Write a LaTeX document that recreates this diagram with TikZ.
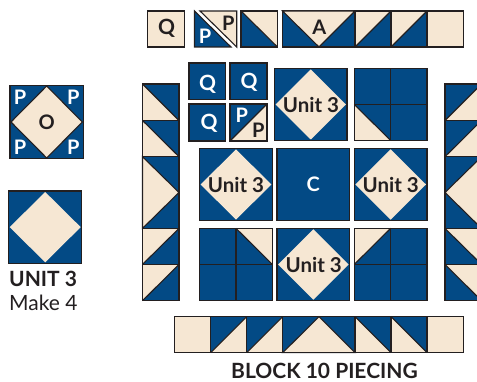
\documentclass[tikz,border=0pt]{standalone}
\usepackage{fontspec}
\setmainfont{Lato}
\definecolor{qblue}{HTML}{034A85}
\definecolor{qcream}{HTML}{F6E7D3}
\definecolor{qline}{HTML}{231F20}
\tikzset{
  ol/.style={draw=qline,line width=1.1pt,line join=miter},
  lblW/.style={text=white,anchor=base,font=\bfseries\fontsize{#1}{#1}\selectfont,inner sep=0pt},
  lblK/.style={text=qline,anchor=base,font=\bfseries\fontsize{#1}{#1}\selectfont,inner sep=0pt},
  unitlbl/.style={text=qline,anchor=base,font=\bfseries\fontsize{20.5}{20.5}\selectfont,inner sep=0pt},
  captxt/.style={text=qline,anchor=base west,inner sep=0pt}
}
% square: x0 y0 x1 y1 fill
\newcommand{\qsq}[5]{\fill[#5] (#1,#2) rectangle (#3,#4); \draw[ol] (#1,#2) rectangle (#3,#4);}
% HST with diagonal TL-BR: lower-left colour, upper-right colour
\newcommand{\qtlbr}[6]{%
 \fill[#5] (#1,#2) -- (#1,#4) -- (#3,#4) -- cycle;
 \fill[#6] (#1,#2) -- (#3,#2) -- (#3,#4) -- cycle;
 \draw[ol] (#1,#2) rectangle (#3,#4); \draw[ol] (#1,#2) -- (#3,#4);}
% HST with diagonal BL-TR: upper-left colour, lower-right colour
\newcommand{\qbltr}[6]{%
 \fill[#5] (#1,#2) -- (#3,#2) -- (#1,#4) -- cycle;
 \fill[#6] (#3,#2) -- (#3,#4) -- (#1,#4) -- cycle;
 \draw[ol] (#1,#2) rectangle (#3,#4); \draw[ol] (#1,#4) -- (#3,#2);}
% unit 3 block
\newcommand{\qunit}[4]{%
 \fill[qblue] (#1,#2) rectangle (#3,#4);
 \fill[qcream] ({#1+1},{(#2+#4)/2}) -- ({(#1+#3)/2},{#2+1}) -- ({#3-1},{(#2+#4)/2}) -- ({(#1+#3)/2},{#4-1}) -- cycle;
 \draw[ol] (#1,#2) rectangle (#3,#4);}
\begin{document}
\begin{tikzpicture}[x=1pt,y=-1pt]
\useasboundingbox (0,0) rectangle (477,382);
\begin{scope}
\clip (0,0) rectangle (477,382);
% top row
\qsq{147.7}{11}{184.3}{47}{qcream}
\fill[qblue] (194.5,11) -- (194.5,47) -- (231,47) -- cycle;
\draw[ol] (194.5,11) -- (194.5,47) -- (231,47) -- cycle;
\fill[qcream] (200,11) -- (236.7,11) -- (236.7,47) -- cycle;
\draw[ol] (200,11) -- (236.7,11) -- (236.7,47) -- cycle;
\qtlbr{241}{11}{277.5}{47}{qblue}{qcream}
\qsq{282.5}{11}{355}{47}{qblue}
\fill[qcream] (282.5,11) -- (319,47) -- (355,11) -- cycle;
\draw[ol] (282.5,11) -- (319,47) -- (355,11) -- cycle;
\qbltr{355}{11}{391}{47}{qcream}{qblue}
\qbltr{391}{11}{427}{47}{qcream}{qblue}
\qsq{427}{11}{463.3}{47}{qcream}
% left column
\qtlbr{142.5}{84}{179}{120.5}{qcream}{qblue}
\qtlbr{142.5}{120.5}{179}{156.7}{qcream}{qblue}
\qsq{142.5}{156.7}{179}{228.4}{qblue}
\fill[qcream] (142.5,156.7) -- (179,192.5) -- (142.5,228.4) -- cycle;
\draw[ol] (142.5,156.7) -- (179,192.5) -- (142.5,228.4) -- cycle;
\qbltr{142.5}{228.4}{179}{264.4}{qcream}{qblue}
\qbltr{142.5}{264.4}{179}{300.7}{qcream}{qblue}
% right column
\qbltr{445}{84}{481.5}{120.5}{qblue}{qcream}
\qbltr{445}{120.5}{481.5}{156.7}{qblue}{qcream}
\qsq{445}{156.7}{481.5}{228.4}{qblue}
\fill[qcream] (481.5,156.7) -- (445,192.5) -- (481.5,228.4) -- cycle;
\draw[ol] (481.5,156.7) -- (445,192.5) -- (481.5,228.4) -- cycle;
\qtlbr{445}{228.4}{481.5}{264.4}{qblue}{qcream}
\qtlbr{445}{264.4}{481.5}{300.7}{qblue}{qcream}
% Q cluster
\qsq{189}{63}{225.7}{99.5}{qblue}
\qsq{230}{63}{267}{99.5}{qblue}
\qsq{189}{104}{225.7}{141}{qblue}
\qbltr{230}{104}{267}{141}{qblue}{qcream}
% unit 3 blocks
\qunit{274.5}{68.5}{347}{140.5}
\qunit{199.7}{148.3}{272.3}{220.7}
\qsq{277}{148.3}{349.7}{220.7}{qblue}
\qunit{354.3}{148.3}{427}{220.7}
\qunit{277}{228.3}{349.7}{300.7}
% four patches
\qsq{354.3}{68.5}{427}{140.5}{qblue}
\qtlbr{354.3}{104.5}{390.7}{140.5}{qcream}{qblue}
\draw[ol] (390.7,68.5) -- (390.7,140.5) (354.3,104.5) -- (427,104.5);
\qsq{199.7}{228.3}{272.3}{300.7}{qblue}
\qtlbr{236}{228.3}{272.3}{264.4}{qblue}{qcream}
\draw[ol] (236,228.3) -- (236,300.7) (199.7,264.4) -- (272.3,264.4);
\qsq{354.3}{228.3}{427}{300.7}{qblue}
\qbltr{354.3}{228.3}{390.7}{264.4}{qcream}{qblue}
\draw[ol] (390.7,228.3) -- (390.7,300.7) (354.3,264.4) -- (427,264.4);
% bottom row
\qsq{174.3}{316.7}{210.7}{352.7}{qcream}
\qbltr{210.7}{316.7}{246.7}{352.7}{qblue}{qcream}
\qbltr{246.7}{316.7}{282.7}{352.7}{qblue}{qcream}
\qsq{282.7}{316.7}{355}{352.7}{qblue}
\fill[qcream] (282.7,352.7) -- (319,316.7) -- (355,352.7) -- cycle;
\draw[ol] (282.7,352.7) -- (319,316.7) -- (355,352.7) -- cycle;
\qtlbr{355}{316.7}{391}{352.7}{qcream}{qblue}
\qtlbr{391}{316.7}{427}{352.7}{qcream}{qblue}
\qsq{427}{316.7}{463.3}{352.7}{qcream}
% O unit
\qsq{10}{85.5}{83.3}{158.3}{qblue}
\fill[qcream] (11,122) -- (46.7,86) -- (82.3,122) -- (46.7,158) -- cycle;
\draw[ol] (11,122) -- (46.7,86) -- (82.3,122) -- (46.7,158) -- cycle;
% unit 3 sample
\qunit{8.7}{191}{81.7}{263.3}
\end{scope}
% labels
\node[lblK=21] (q1) at (166.7,35) {Q};
\node[lblW=20] (p1) at (205,43.3) {P};
\node[lblK=20] (p2) at (228.3,30.7) {P};
\node[lblK=20] (a1) at (319.3,35) {A};
\node[lblW=21] (q2) at (207.7,90.7) {Q};
\node[lblW=21] (q3) at (249,88.3) {Q};
\node[lblW=21] (q4) at (209,130) {Q};
\node[lblW=20] (p3) at (241.7,122.7) {P};
\node[lblK=20] (p4) at (258.3,137.3) {P};
\node[unitlbl] (u1) at (311,112.7) {Unit 3};
\node[unitlbl] (u2) at (236,192.7) {Unit 3};
\node[unitlbl] (u3) at (390.7,192.7) {Unit 3};
\node[unitlbl] (u4) at (313.7,272.7) {Unit 3};
\node[lblW=20] (c1) at (313.3,191.7) {C};
\node[lblK=20] (o1) at (46.7,130) {O};
\node[lblW=20] (p5) at (20,105) {P};
\node[lblW=20] (p6) at (73.3,105) {P};
\node[lblW=20] (p7) at (20,154.3) {P};
\node[lblW=20] (p8) at (73.3,154.3) {P};
\node[captxt,font=\bfseries\fontsize{21}{21}\selectfont] (t1) at (9,287) {UNIT 3};
\node[captxt,font=\fontsize{21}{21}\selectfont] (t2) at (9,310.5) {Make 4};
\node[captxt,font=\bfseries\fontsize{21}{21}\selectfont] (t3) at (231,378) {BLOCK 10 PIECING};
\end{tikzpicture}
\end{document}
